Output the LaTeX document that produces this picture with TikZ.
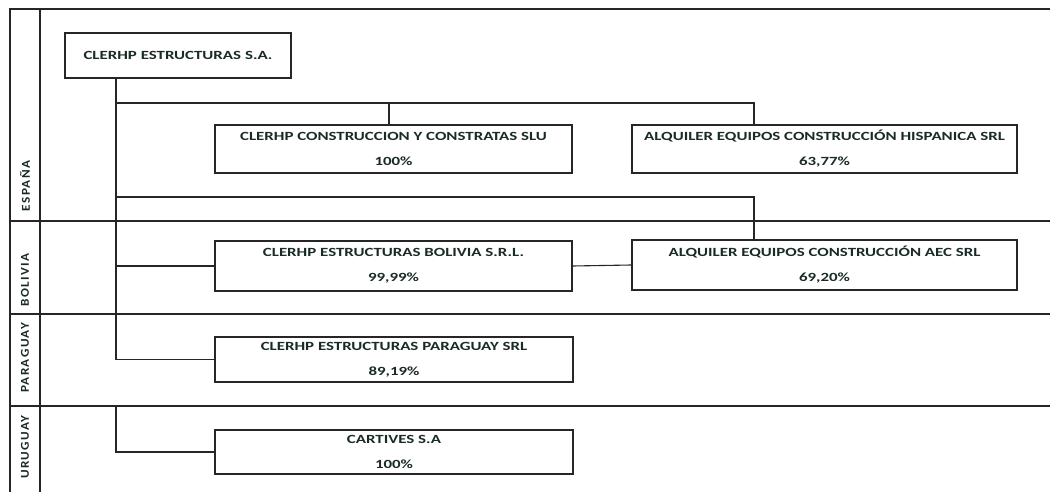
\documentclass[tikz,border=0pt]{standalone}
\usepackage{fontspec}
\setmainfont{Carlito}
\newfontfamily\boxfont{Carlito}[FakeStretch=1.35]
\newfontfamily\sidefont{Carlito}[FakeStretch=1.1,LetterSpace=12]
\definecolor{txt}{RGB}{25,42,40}
\begin{document}
\begin{tikzpicture}[x=1pt,y=-1pt,
  frame/.style={line width=1.5pt,black!85},
  sep/.style={line width=1.5pt,black!85},
  company/.style={draw=black!85,line width=1.3pt,rectangle,align=center,inner sep=0pt,
     font=\boxfont\bfseries\fontsize{12.5}{25}\selectfont,text=txt},
  link/.style={line width=1.1pt,black!85},
  country/.style={rotate=90,font=\sidefont\bfseries\fontsize{12}{14}\selectfont,text=txt,inner sep=0pt}]
\useasboundingbox (0,0) rectangle (1050,492);
% frame
\draw[frame] (10,492) -- (10,9) -- (1050,9);
\draw[frame] (40,9) -- (40,492);
\draw[sep] (10,221) -- (1050,221);
\draw[sep] (10,314) -- (1050,314);
\draw[sep,line width=2.4pt] (10,406) -- (1050,406);
% countries
\node[country] (es) at (25,186) {ESPAÑA};
\node[country] (bo) at (25,280) {BOLIVIA};
\node[country] (pa) at (25,358) {PARAGUAY};
\node[country] (ur) at (25,447) {URUGUAY};
% companies
\node[company,minimum width=226pt,minimum height=45pt] (top) at (178,55.5) {CLERHP ESTRUCTURAS S.A.};
\node[company,minimum width=357pt,minimum height=48pt] (cons) at (393.5,149) {CLERHP CONSTRUCCION Y CONSTRATAS SLU\\100\%};
\node[company,minimum width=385pt,minimum height=48pt] (hisp) at (824.5,149) {ALQUILER EQUIPOS CONSTRUCCIÓN HISPANICA SRL\\63,77\%};
\node[company,minimum width=357pt,minimum height=50pt] (bol) at (393.5,266) {CLERHP ESTRUCTURAS BOLIVIA S.R.L.\\99,99\%};
\node[company,minimum width=385pt,minimum height=50pt] (aec) at (824.5,265) {ALQUILER EQUIPOS CONSTRUCCIÓN AEC SRL\\69,20\%};
\node[company,minimum width=358pt,minimum height=45pt] (par) at (394,359.5) {CLERHP ESTRUCTURAS PARAGUAY SRL\\89,19\%};
\node[company,minimum width=358pt,minimum height=44pt] (car) at (394,452) {CARTIVES S.A\\100\%};
% connector coordinates
\coordinate (tr) at (116,0);
\coordinate (h1) at (116,103);
\coordinate (h2) at (116,197);
\coordinate (cx) at (389,0);
\coordinate (hx) at (754,0);
\coordinate (u0) at (116,406);
% connectors
\draw[link] (top.south -| tr) |- (par.west);
\draw[link] (h1) -| (hisp.north -| hx);
\draw[link] (cons.north -| cx) -- (h1 -| cx);
\draw[link] (h2) -| (aec.north -| hx);
\draw[link] (tr |- bol.west) -- (bol.west);
\draw[link] (bol.east) -- (aec.west);
\draw[link] (u0) |- (car.west);
\end{tikzpicture}
\end{document}
